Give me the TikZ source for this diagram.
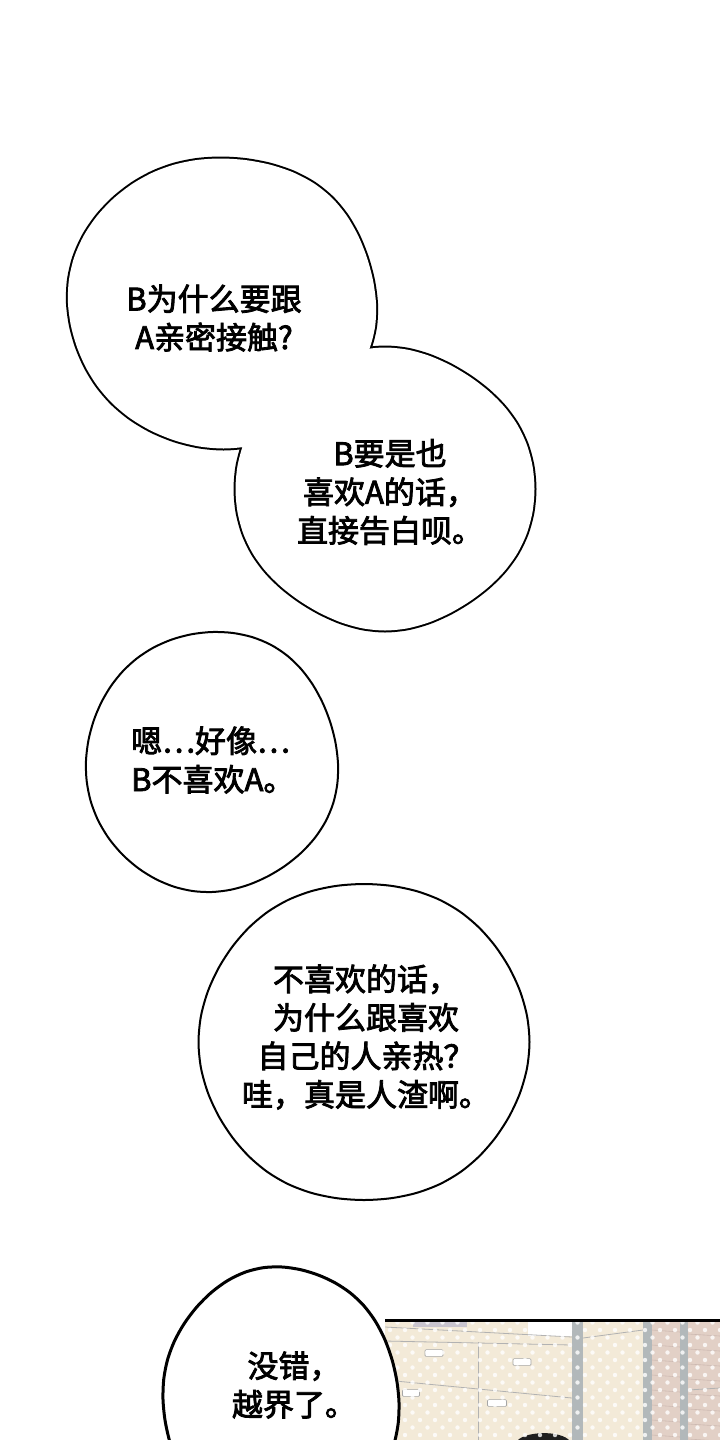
\documentclass[tikz,border=0pt]{standalone}
\usepackage{fontspec}
\newfontfamily\cjk[FakeBold=2.6]{Noto Sans CJK SC}
\definecolor{wallbeige}{RGB}{243,234,216}
\definecolor{shelfmauve}{RGB}{200,196,206}
\definecolor{brickpink}{RGB}{226,208,198}
\definecolor{brickline}{RGB}{205,185,178}
\definecolor{steel}{RGB}{178,184,186}

\begin{document}
\begin{tikzpicture}
[x=1pt,y=-1pt,%
  say/.style={font=\cjk\fontsize{31}{38.5}\selectfont,align=center,inner sep=0pt},%
  rim/.style={line width=4pt,line join=round},%
  balloon/.style={fill=white,draw,line width=2pt,line join=round},%
  post/.style={fill=steel},%
  handle/.style={fill=white,draw=gray!70,line width=.6pt,rounded corners=1pt},%
  dot/.style={fill=white,opacity=.8}]
\useasboundingbox (0,0) rectangle (720,1440);
\fill[white] (0,0) rectangle (720,1440);

% panel at the bottom
\begin{scope}
\clip (385,1320) rectangle (720,1440);
\fill[wallbeige] (385,1320) rectangle (720,1440);
\fill[shelfmauve] (413,1322) rectangle (467,1327);
\fill[white] (528,1322) rectangle (573,1336);
\draw[gray!60,line width=.8pt] (385,1327) -- (572,1337);
\draw[gray!60,line width=.8pt] (385,1341) -- (572,1345);
\draw[gray!60,line width=.8pt] (478,1342) -- (478,1440);
\draw[gray!60,line width=.8pt] (385,1380) -- (572,1398);
\draw[gray!60,line width=.8pt] (583,1338) -- (643,1330);
\node[handle,minimum width=18pt,minimum height=3pt] (h1) at (434,1353) {};
\node[handle,minimum width=18pt,minimum height=3pt] (h2) at (522,1362) {};
\node[handle,minimum width=17pt,minimum height=3pt] (h3) at (411,1393) {};
\node[handle,minimum width=19pt,minimum height=3pt] (h4) at (497,1403) {};
\fill[brickpink] (652,1320) rectangle (680,1440);
\fill[brickpink] (688,1320) rectangle (720,1440);
\foreach \y in {1330,1345,...,1435}
  \draw[brickline,line width=.6pt] (652,\y) -- (680,\y+2) (688,\y+4) -- (720,\y+6);
\draw[gray!60,line width=.8pt] (688,1390) -- (720,1388);
\fill[post] (572,1320) rectangle (583,1440);
\fill[post] (643,1320) rectangle (652,1440);
\fill[post] (680,1320) rectangle (688,1440);
\fill[black!88] (517,1441) .. controls (525,1431) and (561,1430) .. (570,1441);
\foreach \i in {0,...,23}
  \foreach \j in {0,...,8}{
    \fill[dot] ({390+15*\i},{1330+15*\j}) circle[radius=2.2pt];
    \fill[dot] ({382.5+15*\i},{1322.5+15*\j}) circle[radius=2.2pt];
  }
\end{scope}
\draw[line width=3pt] (385,1320) -- (721,1320);

% joined balloons at the top
\draw[rim] plot[smooth cycle,samples=40,domain=0:351,variable=\t]
  ({222+154*cos(\t)+1.5*sin(5*\t)},{302+145*sin(\t)+1.5*cos(4*\t)});
\draw[rim] plot[smooth cycle,samples=40,domain=0:351,variable=\t]
  ({385+148*cos(\t)+1.5*cos(3*\t)},{489+140*sin(\t)+1.5*sin(5*\t)});
\fill[white] plot[smooth cycle,samples=40,domain=0:351,variable=\t]
  ({222+154*cos(\t)+1.5*sin(5*\t)},{302+145*sin(\t)+1.5*cos(4*\t)});
\fill[white] plot[smooth cycle,samples=40,domain=0:351,variable=\t]
  ({385+148*cos(\t)+1.5*cos(3*\t)},{489+140*sin(\t)+1.5*sin(5*\t)});

\draw[balloon] plot[smooth cycle,samples=40,domain=0:351,variable=\t]
  ({212+126*cos(\t)+1.5*sin(4*\t)},{762+130*sin(\t)+1.5*cos(3*\t)});
\draw[balloon] plot[smooth cycle,samples=40,domain=0:351,variable=\t]
  ({364+164*cos(\t)+1.5*cos(5*\t)},{1042+160*sin(\t)+2*sin(3*\t)});
\draw[balloon,line width=3pt] plot[smooth cycle,samples=40,domain=0:351,variable=\t]
  ({281+118*cos(\t)+1.5*sin(3*\t)},{1401+134*sin(\t)+1.5*cos(5*\t)});

\node[say] (why) at (214,318) {B为什么要跟\\A亲密接触?};
\node[say] (ifso) at (390,492) {B要是也\\喜欢A的话，\\直接告白呗。};
\node[say,align=left,anchor=west] (hmm) at (131,760) {嗯…好像…\\B不喜欢A。};
\node[say] (scum) at (366,1037) {不喜欢的话，\\为什么跟喜欢\\自己的人亲热？\\哇，真是人渣啊。};
\node[say] (right) at (294,1385) {没错，\\越界了。};
\end{tikzpicture}
\end{document}
